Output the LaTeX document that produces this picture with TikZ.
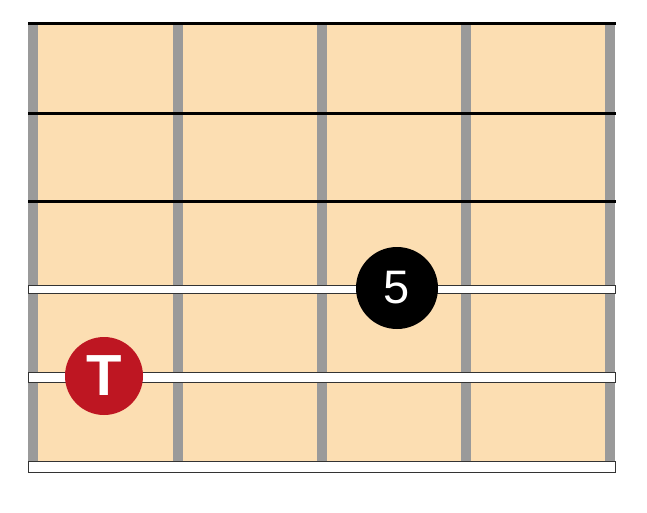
\documentclass[tikz,border=0pt]{standalone}
\usepackage{fontspec}
\setmainfont{Liberation Sans}
\usepackage{xcolor}
\usepackage{tikz}
\definecolor{boardfill}{RGB}{252,222,178}
\definecolor{fretgray}{RGB}{154,154,154}
\definecolor{rootred}{RGB}{190,22,34}
\tikzset{
  fret/.style={fill=fretgray, draw=none},
  thinstring/.style={line width=3pt, black},
  thickstring/.style={fill=white, draw=black!80, line width=1pt},
  dot/.style={circle, inner sep=0pt, text=white, align=center},
  root/.style={dot, fill=rootred, minimum size=78pt, font=\bfseries\fontsize{58}{58}\selectfont},
  fifth/.style={dot, fill=black, minimum size=82pt, font=\fontsize{47}{47}\selectfont}
}
\begin{document}
\begin{tikzpicture}[x=1pt, y=-1pt]
  \useasboundingbox (0,0) rectangle (647,512);
  % Board
  \fill[boardfill] (28,23) rectangle (615,462);
  % Frets
  \foreach \x in {33,178,322,466,610}
    \path[fret] (\x-5,23) rectangle (\x+5,462);
  % Strings (thin)
  \foreach \y in {23,113,201}
    \draw[thinstring] (28,\y) -- (615.5,\y);
  % Strings (wound)
  \foreach \y/\h in {289/8,377/10,467/11}
    \draw[thickstring] (28.5,\y-\h/2) rectangle (615.5,\y+\h/2);
  % Notes
  \node[root] (tonic) at (104,376) {T};
  \node[fifth] (fifth) at (397,288) {5};
\end{tikzpicture}
\end{document}
